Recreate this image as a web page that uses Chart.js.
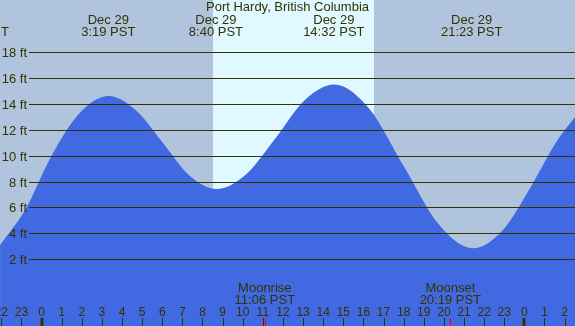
<!DOCTYPE html>
<html>
<head>
<meta charset="utf-8">
<script src="https://cdn.jsdelivr.net/npm/chart.js@4"></script>
<style>
  html, body { margin: 0; padding: 0; background: #b0c4de; }
  #tide { display: block; }
</style>
</head>
<body>
<canvas id="tide" width="575" height="326"></canvas>
<script>
const stationName = "Port Hardy, British Columbia";

// hours from midnight, Dec 29, and water height in ft
const tideHours = [-2.06, -0.8, 0.5, 1.9, 3.35, 4.69, 6.03, 7.36, 8.7, 10.16, 11.63, 13.09, 14.55, 16.28, 18.0, 19.73, 21.45, 22.9, 24.3, 25.6, 26.52];
const tideFeet = [3.1, 5.85, 10.0, 13.3, 14.6, 13.5, 11.0, 8.45, 7.43, 8.55, 11.35, 14.3, 15.5, 13.65, 9.2, 4.72, 2.85, 4.2, 7.55, 11.1, 13.0];

// highs and lows
const eventHours = [3.32, 8.67, 14.53, 21.38];
const eventDates = ["Dec 29", "Dec 29", "Dec 29", "Dec 29"];
const eventTimes = ["3:19 PST", "8:40 PST", "14:32 PST", "21:23 PST"];

// sun / moon
const sunrise = 8.51;
const sunset = 16.53;
const moonHours = [11.1, 20.32];
const moonNames = ["Moonrise", "Moonset"];
const moonTimes = ["11:06 PST", "20:19 PST"];

// axes
const hourTicks = [-2, -1, 0, 1, 2, 3, 4, 5, 6, 7, 8, 9, 10, 11, 12, 13, 14, 15, 16, 17, 18, 19, 20, 21, 22, 23, 24, 25, 26];
const hourLabels = ["22", "23", "0", "1", "2", "3", "4", "5", "6", "7", "8", "9", "10", "11", "12", "13", "14", "15", "16", "17", "18", "19", "20", "21", "22", "23", "0", "1", "2"];
const feetTicks = [2, 4, 6, 8, 10, 12, 14, 16, 18];

const ink = "#333300";
const font13 = '13px "Liberation Sans", Arial, sans-serif';
const font12 = '12px "Liberation Sans", Arial, sans-serif';

const tideDecor = {
    id: "tideDecor",
    beforeDatasetsDraw(chart) {
        const { ctx, chartArea, scales: { x } } = chart;
        ctx.save();
        ctx.fillStyle = "#b0c4de";
        ctx.fillRect(chartArea.left, chartArea.top, chartArea.width, chartArea.height);
        const x1 = Math.round(x.getPixelForValue(sunrise));
        const x2 = Math.round(x.getPixelForValue(sunset));
        ctx.fillStyle = "#e0f8ff";
        ctx.fillRect(x1, chartArea.top, x2 - x1, chartArea.height);
        ctx.restore();
    },
    afterDatasetsDraw(chart) {
        const { ctx, chartArea, scales: { x, y } } = chart;
        ctx.save();

        // depth lines + labels
        ctx.strokeStyle = ink;
        ctx.lineWidth = 1;
        ctx.fillStyle = ink;
        ctx.font = font13;
        ctx.textAlign = "right";
        ctx.textBaseline = "alphabetic";
        feetTicks.forEach((v) => {
            const py = Math.round(y.getPixelForValue(v)) + 0.5;
            ctx.beginPath();
            ctx.moveTo(29, py);
            ctx.lineTo(chartArea.right, py);
            ctx.stroke();
            ctx.fillText(v + " ft", 27, py + 4);
        });

        // title and tide times
        ctx.textAlign = "center";
        ctx.fillText(stationName, chartArea.width / 2, 11);
        eventHours.forEach((h, i) => {
            const px = x.getPixelForValue(h);
            ctx.fillText(eventDates[i], px, 24);
            ctx.fillText(eventTimes[i], px, 36);
        });
        ctx.textAlign = "left";
        ctx.fillText("T", 1, 36);

        // moon
        ctx.textAlign = "center";
        moonHours.forEach((h, i) => {
            const px = x.getPixelForValue(h);
            ctx.fillText(moonNames[i], px, 292);
            ctx.fillText(moonTimes[i], px, 304);
            ctx.fillStyle = "#ff0000";
            ctx.fillRect(Math.round(px), 318, 1, 8);
            ctx.fillStyle = ink;
        });

        // hour axis
        ctx.font = font12;
        hourTicks.forEach((h, i) => {
            const px = x.getPixelForValue(h);
            ctx.fillText(hourLabels[i], px, 316);
            if (hourLabels[i] === "0") {
                ctx.fillRect(Math.round(px) - 1.5, 318, 3, 8);
            } else {
                ctx.fillRect(Math.round(px), 318, 1, 8);
            }
        });

        ctx.restore();
    },
};

new Chart(document.getElementById("tide"), {
    type: "line",
    data: {
        datasets: [{
            data: tideHours.map((h, i) => ({ x: h, y: tideFeet[i] })),
            fill: "start",
            backgroundColor: "#4169e1",
            borderWidth: 0,
            pointRadius: 0,
            cubicInterpolationMode: "monotone",
        }],
    },
    options: {
        responsive: false,
        animation: false,
        devicePixelRatio: 1,
        layout: { padding: 0 },
        plugins: { legend: { display: false }, tooltip: { enabled: false } },
        scales: {
            x: { type: "linear", min: -2.063, max: 26.516, display: false },
            y: { min: -3.15, max: 22.02, display: false },
        },
    },
    plugins: [tideDecor],
});
</script>
</body>
</html>
